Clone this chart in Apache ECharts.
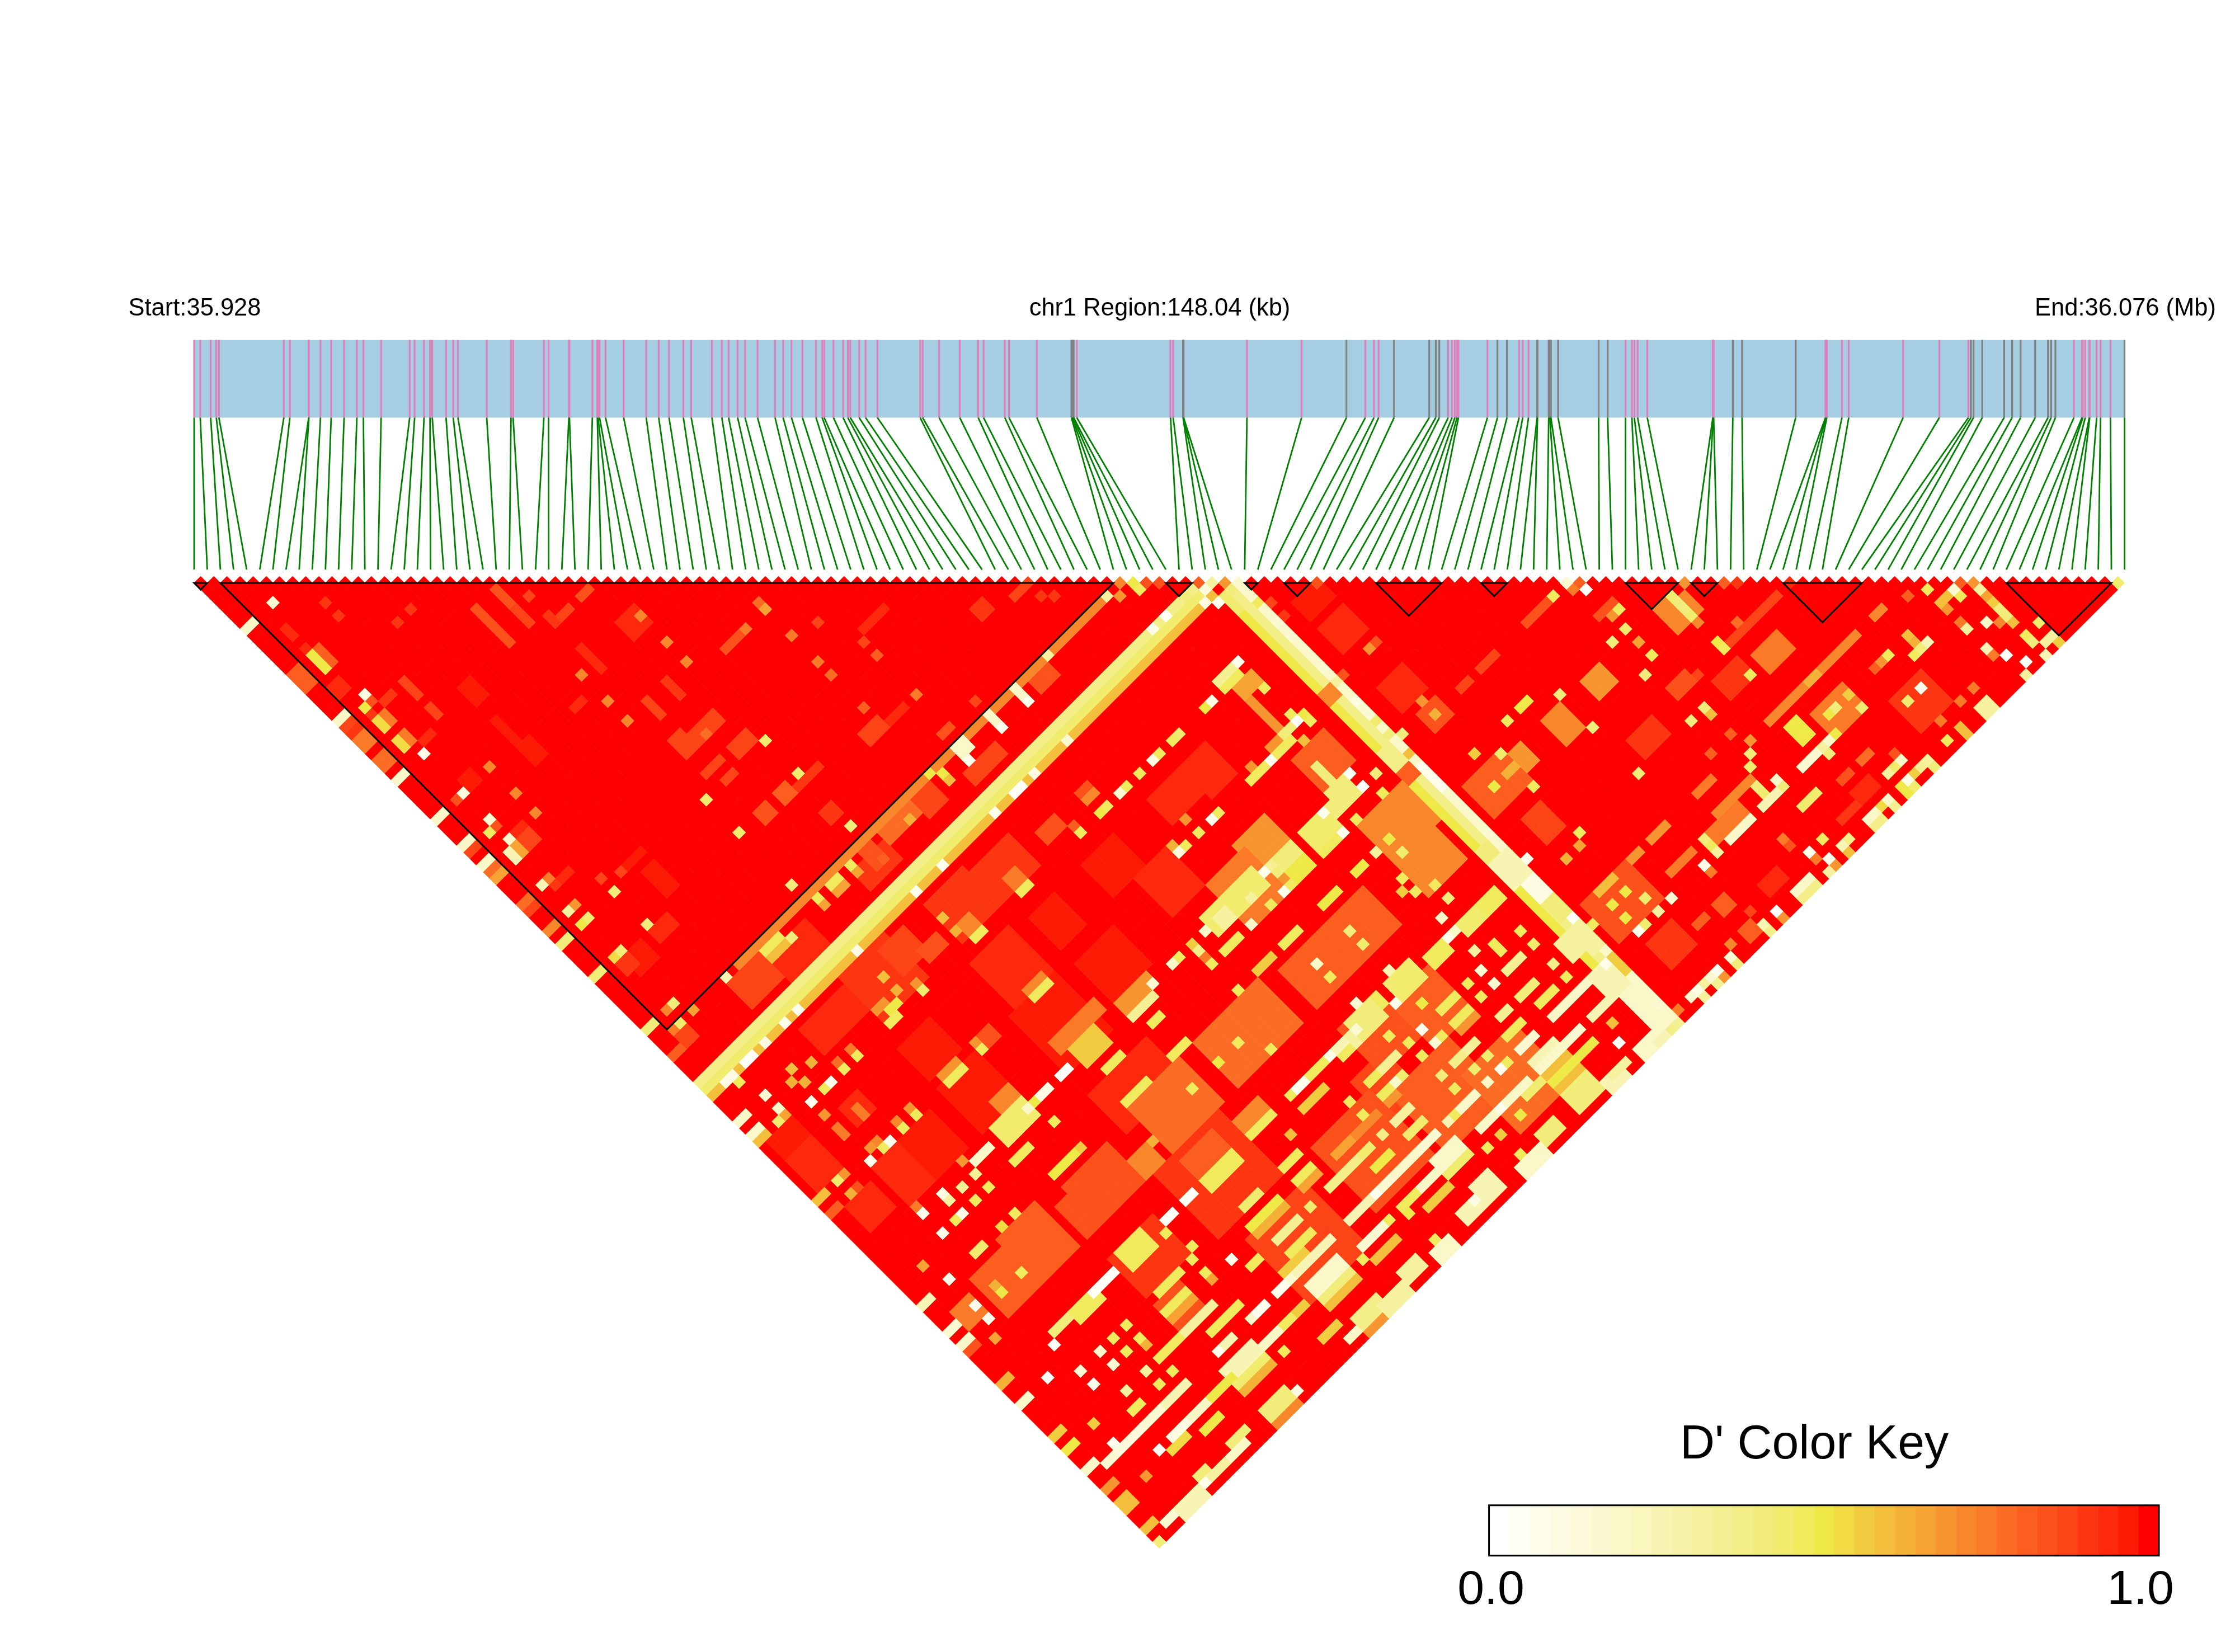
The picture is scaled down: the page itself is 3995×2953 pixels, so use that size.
<!DOCTYPE html>
<html><head><meta charset="utf-8"><style>html,body{margin:0;padding:0;background:#fff}#c{width:3995px;height:2953px}</style>
<script src="https://cdn.jsdelivr.net/npm/echarts@6/dist/echarts.min.js"></script></head><body><div id="c"></div>
<script>
// physical SNP positions, kb from region start
const snpKb=[0,0.47,1.27,1.70,1.90,6.88,7.34,8.79,8.80,9.69,10.51,11.50,12.48,12.98,14.34,16.53,16.91,17.63,18.09,18.26,19.32,19.87,20.23,22.44,24.30,24.46,26.82,27.18,28.74,28.78,30.54,30.92,30.98,31.09,31.55,32.94,34.67,35.63,36.42,37.52,38.12,39.71,40.47,40.99,41.68,42.25,43.21,44.55,45.17,45.81,46.65,47.69,48.16,48.32,49.03,49.77,50.13,50.32,51.00,51.49,52.40,55.68,55.87,57.13,58.72,60.13,60.54,62.17,62.49,64.63,67.28,67.33,67.39,67.45,67.69,74.88,75.08,75.84,75.86,75.88,80.74,84.93,88.37,89.82,90.48,90.84,92.02,94.72,95.22,95.49,96.17,96.47,96.69,96.85,96.96,99.18,99.95,100.68,101.61,101.89,102.33,102.99,103.02,103.88,103.97,104.05,104.60,107.71,108.40,109.77,110.26,110.45,110.70,111.44,116.47,116.50,116.53,118.00,118.71,122.82,125.11,125.15,125.21,126.37,126.89,131.06,133.84,136.07,136.26,136.46,137.13,138.81,139.42,140.07,141.19,142.17,142.41,142.74,144.16,144.78,144.84,145.03,145.34,145.37,145.90,146.20,146.96,148.04];
// SNPs whose track tick is grey; all others are pink
const snpGrey=[70,71,72,73,77,78,79,82,86,87,88,89,96,97,101,102,103,104,105,106,107,108,117,118,119,128,129,130,131,132,133,134,135,136,137,147];
const regionKb=148.04;
// D' colour key, 33 steps from 0 to 1
const keyColors=['#FFFFFF','#FFFEF7','#FEFDEC','#FDFCE3','#FCFADB','#FBF9D2','#FAF7C8','#F9F6BE','#F8F4B3','#F6F3A9','#F5F19E','#F4F093','#F3EE88','#F2ED7B','#F1EC6D','#F0EA5C','#EFE948','#F1DA44','#F2CC40','#F3BE3C','#F4B138','#F6A334','#F79530','#F8872C','#FA7A28','#FB6C24','#FC5E20','#FC511B','#FD4416','#FD3612','#FE280C','#FE1B06','#FF0000'];
// LD blocks outlined in black: first and last SNP
const ldTriangles=[[0,1],[2,70],[74,76],[80,81],[83,85],[90,95],[98,100],[109,113],[114,116],[121,127],[138,146]];
// D' estimates. Everything not listed reads as 1.0.
// [iFrom,iTo,jFrom,jTo,value], later entries overwrite earlier ones
const ldBroad=[[12,13,29,31,.96],[12,12,34,37,.96],[12,13,38,40,.96],[24,24,35,38,.95],[19,20,39,39,.95],[28,28,44,46,.9],[25,25,44,46,.87],[24,25,49,50,.88],[12,13,57,60,.97],[4,6,62,64,.97],[8,10,62,63,.95],[29,31,36,38,.94],[5,6,36,37,.97],[42,44,64,64,.93],[47,50,55,55,.95],[39,41,63,64,.88],[30,33,62,62,.92],[30,31,66,67,.9],[15,20,73,76,.93],
[29,35,96,104,.96],[18,23,96,102,.96],[18,22,90,94,.96],[30,35,89,95,.95],[38,43,97,102,.96],[38,41,90,94,.96],[46,50,90,94,.96],[56,60,90,93,.95],[61,64,90,94,.95],[49,53,95,100,.95],[9,11,90,92,.94],[1,4,87,90,.96],[1,4,90,94,.95],[7,11,97,102,.95],[2,5,98,101,.95],[11,15,97,102,.96],[37,42,82,86,.92],[31,36,81,86,.92],[19,25,80,86,.92],[12,18,81,84,.94],[24,27,81,84,.88],[29,37,108,113,.94],[82,85,99,102,.95],[82,85,90,93,.95],[82,85,86,88,.96],[83,86,139,142,.92],[120,124,139,143,.9],[96,98,143,144,.93],[110,112,143,144,.95],[107,109,144,144,.92],[108,111,124,126,.92],[97,100,122,124,.9],[112,119,122,122,.87],[104,107,122,122,.87],[28,37,119,128,.92],[18,24,122,127,.9],[18,21,129,132,.85],[50,54,127,132,.86],[52,60,131,139,.82],[59,66,135,143,.78],[42,50,129,138,.84],[30,38,131,140,.87],[59,64,124,130,.82],[53,58,122,128,.84],
[20,26,113,118,.84],[18,22,114,118,.85],[31,38,112,118,.78],[6,11,113,118,.8],[11,16,112,118,.8],[41,50,112,118,.78],[53,58,113,118,.8],[59,65,113,118,.8],[70,76,108,113,.72],[70,75,113,118,.72],[70,74,98,102,.8],[59,63,100,107,.68],[54,59,101,107,.75],[81,86,113,117,.82],[83,85,104,106,.84],[83,85,120,123,.87],[81,87,131,136,.85],[113,116,125,127,.74],[109,119,131,131,.72],[113,117,134,137,.75],[30,36,101,102,.75],[38,42,103,104,.68],[31,35,120,122,.82],[2,4,114,116,.76]];
// the long yellow bands and the orange line beside the big block
const ldBands=[[12,68,71,71,.72],[0,76,77,77,.36],[0,76,78,78,.44],[0,76,79,79,.6],[77,77,80,147,.5],[78,78,80,147,.36],[79,79,80,147,.2],[77,78,95,96,.72],[77,78,107,108,.8]];
const ldStreaks=[[0,1,8,8,.18],[3,3,15,17,.5],[4,4,15,17,.82],[0,1,15,17,.82],[3,3,11,12,.93],[2,3,19,20,.95],[5,6,24,24,.92],[3,3,25,26,.52],[4,4,25,26,.75],[0,1,22,22,.18],[0,1,23,23,.87],[0,1,24,24,.92],[0,1,25,26,.75],[0,1,28,29,.77],[0,1,31,31,.2],[3,3,28,29,.53],[4,4,28,29,.75],[5,6,30,30,.93],[8,8,24,26,.88],[8,8,28,29,.87],[19,19,24,26,.85],[19,19,27,29,.85],[22,22,24,26,.85],[22,22,27,29,.87],[25,26,31,31,.87],[24,24,30,31,.9],[28,29,31,31,.85],[0,1,37,37,.2],[0,1,41,41,.2],[0,1,42,42,.87],[0,1,44,44,.2],[0,1,45,45,.77],[0,1,46,46,.65],[3,3,45,46,.25],[4,4,45,46,.67],[5,6,45,46,.88],[5,6,44,44,.93],[5,6,51,51,.93],[0,1,50,50,.78],[0,1,51,51,.87],[0,1,54,54,.72],[0,1,56,56,.42],[11,13,55,55,.96],[0,1,61,61,.42],[3,4,62,63,.92],[0,1,69,69,.42],[2,3,72,73,.87],[0,1,73,73,.8],
[35,37,46,46,.85],[28,29,61,62,.82],[25,26,61,62,.85],[27,29,50,51,.87],[24,26,50,51,.87],[28,30,54,55,.87],[24,26,54,54,.87],[25,26,56,56,.87],[57,58,62,63,.92],[61,63,64,64,.88],[45,46,69,69,.85],
[54,54,71,72,.2],[50,50,71,72,.2],[45,46,71,72,.2],[56,58,72,73,.85],[44,48,74,75,.87],[33,37,72,73,.78],[38,40,72,74,.87],[28,32,73,75,.9],[30,31,72,74,.83],[25,26,72,72,.48],[25,26,73,73,.65],[14,17,72,72,.47],[14,17,73,73,.58],[10,14,72,75,.87],
[51,52,84,84,.85],[51,52,85,85,.72],[45,47,84,85,.85],[39,40,85,86,.75],[39,40,87,87,.47],[32,33,85,86,.72],[32,33,87,87,.47],[27,29,84,85,.85],[19,20,87,87,.46],[20,21,86,86,.5],[19,20,85,85,.7],[0,1,83,83,.2],[0,1,85,85,.2],[0,1,86,86,.6],[10,10,91,92,.75],[7,7,91,92,.75],[0,1,95,95,.6],[0,1,97,97,.82],[32,34,95,95,.72],[32,34,96,96,.47],[19,21,95,95,.7],[19,21,96,96,.47],[25,26,95,96,.85],[38,41,105,105,.35],[39,40,107,107,.47],[31,34,103,105,.55],[32,34,107,107,.47],[28,29,104,104,.03],[25,26,104,104,.08],[21,23,101,102,.72],[19,23,103,105,.45],[18,20,107,107,.47],[15,17,104,104,.2],[31,34,111,111,.46],[20,23,111,111,.5],[27,29,116,118,.72],[31,35,123,124,.47],[28,29,123,123,.04],[25,26,123,123,.04],[50,51,104,104,.2],[51,54,103,105,.45],[52,53,104,105,.3],[38,40,111,111,.47],[65,68,139,139,.25],[65,68,140,143,.6],
[53,55,123,124,.3],[56,58,122,123,.47],[49,50,123,123,.05],[51,52,123,124,.25],[53,55,128,128,.35],[51,52,128,128,.47],[51,52,130,130,.47],[51,52,131,131,.68],[60,61,133,133,.3],[56,58,137,137,.2],[50,52,133,133,.3],[50,52,137,137,.15],[46,49,137,137,.2],[50,52,135,135,.45],[56,58,140,140,.2],[50,53,139,140,.2],[50,53,141,141,.45],[46,49,140,140,.2],[46,49,142,142,.55],[43,45,137,137,.15],[44,46,140,140,.47],[61,63,140,140,.2],[62,64,141,141,.45],[39,42,137,137,.25],[38,41,140,140,.15],[38,41,142,142,.6],[38,40,128,128,.47],[38,40,130,130,.47],[38,40,131,131,.65],[40,44,133,133,.38],[43,45,131,131,.65],[45,46,133,133,.45],[45,47,135,135,.5],[38,41,121,122,.72],[38,41,123,123,.47],[46,49,131,131,.72],[44,47,125,125,.55],[47,49,123,123,.47],[45,46,123,123,.05],
[32,34,128,128,.45],[31,35,130,130,.5],[31,35,131,131,.62],[32,35,133,133,.35],[32,35,135,135,.47],[30,33,136,136,.55],[31,36,137,137,.25],[28,29,137,137,.05],[31,35,139,140,.2],[31,35,141,141,.4],[31,35,142,142,.6],[25,26,137,137,.05],[28,29,133,133,.47],[28,29,140,140,.55],[20,21,137,137,.25],[20,23,135,135,.47],[18,22,133,133,.3],[18,22,139,140,.25],[18,22,141,141,.45],[18,22,142,142,.62],[14,17,133,133,.47],[11,14,137,137,.25],[14,18,140,140,.5],[23,25,140,140,.2],[26,27,140,140,.48],[18,21,145,146,.4],[18,21,147,147,.72],[28,30,144,144,.55],[30,31,146,146,.2],[32,35,145,146,.38],[32,35,147,147,.7],[35,38,146,147,.3],[39,41,145,146,.3],[43,45,146,147,.2],[48,50,145,146,.25],[51,53,144,146,.25],[56,59,146,147,.2],[60,62,145,146,.42],[65,68,144,146,.42],[69,71,146,147,.25],
[19,22,122,124,.47],[19,22,128,128,.47],[18,21,130,130,.47],[18,21,131,131,.65],[8,9,135,135,.47],[8,10,137,137,.15],[4,7,137,137,.12],[9,11,140,140,.1],[8,10,141,141,.52],[12,14,140,140,.2],[12,14,142,142,.5],[13,15,145,145,.42],[11,14,146,146,.2],[9,11,146,146,.3],[4,7,146,147,.25],[8,9,111,111,.45],[14,17,123,123,.02],[13,14,124,124,.47],[0,1,111,111,.25],[0,1,115,115,.15],[0,1,117,117,.18],[0,1,118,118,.85],[0,1,123,123,.62],[0,1,126,126,.2],[0,1,131,131,.55],[0,1,133,133,.5],[0,1,136,136,.2],[0,1,139,139,.68],[0,1,141,142,.6],[0,1,145,145,.6],[2,3,146,146,.15],[8,10,123,123,.4],[11,13,123,124,.47],[2,3,137,137,.15],[8,9,145,145,.4],
[70,72,86,86,.35],[70,72,87,87,.47],[71,73,88,89,.65],[71,71,90,94,.7],[70,72,95,95,.4],[69,71,96,96,.47],[69,70,95,95,.7],[65,67,96,96,.47],[71,71,100,103,.4],[70,72,103,105,.42],[68,70,104,105,.42],[65,68,104,106,.45],[65,67,107,107,.47],[66,67,111,111,.5],[61,63,111,111,.5],[55,57,111,111,.47],[51,53,111,111,.55],[60,63,104,105,.42],[61,63,106,107,.5],[55,58,103,105,.45],[50,52,107,107,.47],[65,67,123,124,.47],[70,72,123,124,.45],[73,75,123,124,.47],[71,71,127,128,.47],[70,72,130,130,.35],[69,71,133,133,.4],[70,76,137,137,.18],[73,75,140,140,.25],[70,72,135,135,.47],[66,67,133,133,.35],[65,67,135,135,.47],[65,67,137,137,.15],[65,69,140,140,.2],[65,69,142,142,.5],[70,71,140,140,.15],[70,71,142,142,.5],[74,77,146,147,.2],[70,72,146,146,.3],[60,63,122,124,.45],[54,57,122,124,.42],[62,64,128,128,.47],[62,64,130,130,.47],[62,64,131,131,.68],[59,60,133,133,.38],[51,52,124,124,.47],
[77,77,80,82,.45],[77,78,104,106,.38],[79,79,108,111,.05],[77,78,119,121,.4],[77,79,121,124,.25],[78,79,125,127,.1],[78,79,128,130,.42],[76,77,132,134,.3],[78,79,132,135,.3],[79,79,137,139,.55],[76,78,137,140,.25],[77,78,141,143,.2],[77,79,144,146,.2],
[98,101,105,105,.85],[104,106,110,110,.85],[111,111,114,118,.4],[109,110,114,117,.72],[112,112,115,117,.72],[98,100,114,116,.7],[91,92,111,111,.5],[85,86,115,115,.62],[87,88,114,116,.68],[92,94,114,117,.72],[91,93,105,105,.87],[88,89,105,105,.88],[91,93,131,131,.7],[88,89,131,131,.7],[90,93,135,135,.75],[83,85,131,131,.6],[104,106,121,122,.85],[120,122,131,131,.72],[125,126,131,131,.72],[110,111,133,135,.5],[108,110,137,137,.15],[102,104,137,137,.25],[98,103,134,134,.72],[96,100,135,136,.75],[97,100,137,137,.2],[105,107,140,140,.45],[115,116,131,131,.62],[98,100,131,131,.75],[113,114,141,141,.78],[110,111,141,141,.85],[91,92,141,142,.8],[88,89,141,141,.8],[91,92,145,146,.82],[98,100,146,146,.2],[98,100,147,147,.38],[109,110,146,146,.2],[109,110,147,147,.38],[126,127,146,147,.3],[136,137,146,146,.3]];
// [i,j,value] single cells
const ldCells=[[4,8,.15],[8,12,.92],[8,14,.92],[12,19,.92],[14,19,.92],[3,14,.93],[4,22,.1],[3,23,.5],[4,23,.85],[3,24,.92],[4,31,.05],[24,27,.87],[31,37,.72],[31,41,.72],[31,44,.72],[22,37,.72],[22,41,.72],[22,44,.72],[8,37,.72],[8,41,.72],[8,44,.72],[4,37,.12],[4,41,.15],[4,44,.2],[3,42,.47],[3,37,.85],[4,42,.85],[3,50,.25],[4,50,.75],[4,51,.9],[3,54,.3],[4,54,.68],[3,56,.5],[4,56,.45],[8,54,.88],[8,56,.42],[10,55,.87],[8,61,.42],[4,61,.42],[3,61,.52],[4,69,.42],[3,69,.72],[3,71,.45],[2,71,.75],[5,71,.65],
[41,45,.78],[41,46,.65],[38,46,.75],[41,50,.75],[44,51,.88],[41,54,.75],[41,56,.78],[46,58,.8],[46,56,.87],[46,64,.75],[41,61,.8],[31,56,.45],[31,61,.45],[22,56,.45],[22,61,.45],[31,69,.42],[22,69,.42],[27,51,.78],[64,67,.9],[63,66,.9],[50,69,.88],
[59,71,.3],[68,71,.3],[54,73,.05],[50,73,.05],[45,73,.05],[41,71,.5],[42,72,.5],[42,73,.6],[28,72,.48],[28,73,.65],[23,72,.48],[23,73,.65],[18,73,.42],[36,73,.62],[31,74,.8],[10,71,.25],[69,72,.7],[71,73,.48],[74,77,.4],[76,78,.12],[78,80,.42],[76,80,.05],[75,79,.1],[71,77,.03],[69,77,.05],
[35,79,.05],[31,79,.05],[22,79,.1],[13,79,.05],[11,79,.05],[8,79,.1],[5,79,.03],[6,79,.03],[2,79,.1],[3,79,.1],[3,80,.47],[43,79,.05],[46,79,.03],[47,79,.03],[49,79,.1],[54,79,.15],
[79,88,.15],[79,93,.15],[79,98,.1],[79,99,.15],[79,100,.15],[79,118,.15],[80,123,.05],[79,131,.03],[78,137,.05],[79,144,.15],[79,145,.2],[79,147,.35],[79,83,.47],[80,84,.88],[79,86,.15],[80,86,.9],[80,95,.85],[79,95,.3],[79,101,.45],[80,104,.4],[79,103,.4],[79,105,.2],[79,106,.6],[80,133,.47],
[70,71,.72],[71,72,.5],[72,73,.85],[73,74,.85],[76,77,.8],[77,78,.3],[78,79,.7],[85,86,.85],[104,105,.15],[105,106,.8],[113,114,.7],[116,117,.8],[117,118,.9],[121,122,.93],[134,135,.8],[135,136,.7],[146,147,.45],
[52,87,.47],[51,87,.5],[48,87,.48],[48,86,.8],[54,87,.15],[55,87,.47],[57,87,.47],[59,87,.1],[60,87,.47],[63,87,.45],[62,87,.47],[31,83,.6],[31,85,.62],[24,87,.45],[24,86,.7],[22,85,.62],[22,83,.6],[14,87,.47],[14,86,.75],[12,87,.47],[12,86,.78],[10,87,.05],[9,87,.47],[7,87,.05],[8,85,.62],[7,84,.62],[8,83,.6],[10,84,.62],[4,83,.15],[4,85,.2],[3,86,.45],[4,86,.65],[7,89,.7],[14,96,.47],[14,95,.7],[12,96,.47],[12,95,.72],[10,96,.05],[9,96,.47],[9,95,.72],[7,96,.05],[8,95,.7],[3,95,.45],[4,95,.68],[3,97,.62],[4,97,.85],[24,96,.47],[24,95,.7],[42,104,.15],[14,103,.7],[14,105,.35],[14,107,.47],[12,105,.35],[12,107,.47],[10,104,.08],[10,105,.3],[10,107,.05],[7,104,.05],[7,107,.05],[9,107,.47],[7,103,.75],[24,104,.5],[23,104,.2],[24,107,.47],[24,111,.55],[37,115,.47],[30,116,.62],[59,96,.05],[60,96,.47],[57,96,.47],[54,96,.12],[55,96,.47],[54,95,.62],[57,94,.7],[45,104,.2],[46,104,.47],[48,107,.47],[48,106,.75],[48,105,.38],[48,104,.55],[41,115,.5],[46,118,.47],[44,115,.47],
[24,124,.47],[25,127,.47],[24,130,.47],[24,131,.65],[27,131,.05],[24,137,.2],[24,135,.47],[19,137,.05],[24,142,.47],[22,146,.1],[50,145,.1],[57,145,.47],[44,145,.47],[56,126,.47],[57,128,.47],[59,128,.05],[59,130,.15],[60,130,.47],[54,130,.45],[53,130,.2],[57,130,.47],[57,133,.4],[62,133,.35],[62,135,.45],[63,137,.47],[62,137,.05],[60,137,.2],[60,135,.45],[57,135,.47],[54,137,.25],[55,137,.47],[57,142,.55],[55,142,.47],[59,140,.05],[60,140,.2],[60,142,.5],[43,137,.05],[44,141,.5],[42,140,.47],[37,141,.47],[37,133,.45],[30,137,.15],[41,126,.6],[48,128,.47],[48,130,.47],[48,133,.38],[44,123,.47],[14,128,.47],[14,130,.47],[14,131,.62],[12,130,.47],[12,133,.3],[9,133,.3],[12,135,.47],[14,135,.47],[7,140,.03],[8,146,.05],
[4,111,.05],[3,108,.65],[4,115,.05],[4,117,.05],[3,119,.65],[7,116,.5],[7,115,.62],[10,116,.47],[14,111,.47],[12,111,.52],[7,124,.03],[7,128,.15],[4,126,.03],[7,130,.05],[10,128,.2],[12,128,.47],[10,130,.15],[12,130,.47],[4,133,.55],[4,136,.05],[4,141,.7],[24,128,.47],[0,147,.42],
[73,86,.05],[68,87,.1],[67,87,.5],[73,90,.47],[73,95,.03],[74,96,.47],[74,95,.5],[73,94,.47],[68,96,.05],[66,95,.7],[72,97,.6],[73,103,.03],[73,105,.03],[75,105,.4],[74,107,.47],[68,104,.05],[67,104,.45],[70,107,.47],[68,107,.05],[69,111,.3],[71,111,.5],[71,113,.45],[69,115,.47],[69,117,.47],[68,116,.55],[71,118,.47],[71,120,.42],[69,121,.2],[68,123,.05],[69,123,.2],[74,128,.47],[74,130,.45],[69,126,.3],[68,128,.15],[68,130,.15],[66,128,.47],[66,130,.47],[74,133,.38],[74,135,.47],[74,142,.6],[73,144,.03],[56,121,.15],[59,124,.05],[61,121,.25],[61,126,.5],[54,123,.15],[56,126,.47],[59,107,.05],[59,104,.05],[60,104,.35],[60,107,.47],[57,107,.47],[54,107,.2],[56,105,.3],[48,111,.47],[56,115,.2],[56,117,.47],[61,115,.4],[61,117,.45],
[105,107,.03],[104,106,.75],[102,105,.47],[106,111,.47],[105,111,.7],[105,113,.45],[103,113,.42],[103,118,.42],[105,117,.47],[105,115,.65],[95,113,.42],[89,111,.47],[95,118,.42],[95,125,.42],[103,125,.42],[84,111,.55],[86,113,.45],[86,118,.47],[83,115,.5],[84,103,.7],[84,105,.62],[84,95,.7],[85,95,.85],[86,125,.47],[85,126,.65],[83,126,.62],[93,137,.05],[85,133,.5],[83,133,.5],[86,135,.45],[88,137,.15],[86,137,.3],[84,137,.45],[83,137,.05],[83,135,.5],[82,146,.15],[83,146,.1],
[111,114,.45],[111,115,.42],[111,116,.4],[111,117,.45],[111,118,.72],[111,121,.5],[111,122,.47],[111,126,.47],[105,125,.42],[105,126,.58],[105,129,.8],[106,131,.7],[102,129,.82],[105,132,.42],[104,133,.45],[114,121,.78],[103,135,.42],[103,136,.45],[105,136,.2],[105,137,.4],[112,137,.2],[111,137,.3],[111,138,.42],[113,137,.5],[115,135,.42],[114,135,.5],[117,135,.55],[117,137,.45],[129,132,.82],[131,133,.47],[131,135,.58],[132,135,.58],[131,136,.7],[133,135,.15],[133,136,.47],[135,137,.3],[135,138,.65],[135,139,.55],[135,140,.4],[135,141,.42],[135,142,.6],[133,140,.2],[134,141,.72],[131,139,.3],[131,138,.75],[131,142,.25],[132,144,.03],[133,146,.03],[135,144,.47],[135,145,.4],[137,144,.45],[137,147,.55],[135,147,.25],[132,147,.3],[131,143,.75],[126,135,.6],[126,136,.62],[127,137,.25],[126,137,.42],[125,137,.47],[123,135,.47],[122,135,.7],[121,135,.8],[127,144,.75],[125,144,.75],[123,140,.05],[121,140,.45],[122,144,.75],[123,146,.6],[123,147,.6],[121,146,.47],[116,143,.85],[116,144,.2],[115,144,.45],[114,144,.3],[118,146,.3],[118,147,.42],[117,146,.35],[115,146,.1],[116,146,.55],[115,147,.45],[114,146,.5],[114,147,.5],[112,146,.2],[112,147,.35],[111,146,.52],[104,144,.47],[106,146,.38],[105,146,.25],[105,147,.6],[102,144,.05],[103,146,.05],[103,147,.7],[102,147,.3],[102,145,.75],[101,141,.75],[101,142,.85],[95,135,.42],[95,136,.47],[95,137,.3],[93,138,.75],[93,144,.88],[95,146,.03],[95,147,.7],[93,146,.25],[93,147,.38],[89,145,.72],[88,146,.15],[88,147,.4],[86,146,.05],[85,146,.15],[84,146,.3],[86,147,.7],[85,147,.35],[83,147,.3],[80,146,.75],[76,147,.25],[77,147,.25]];

const W=23.473,H=11.74,X0=347,Y0=1030.3,N=snpKb.length;
const matrix={};
function setCell(i,j,v){if(i<j&&j<N)matrix[i+'_'+j]=v;}
for(let i=0;i<N;i++)for(let j=i+1;j<N;j++)matrix[i+'_'+j]=1;
[...ldBroad,...ldBands,...ldStreaks].forEach(b=>{for(let i=b[0];i<=b[1];i++)for(let j=b[2];j<=b[3];j++)setCell(i,j,b[4]);});
ldCells.forEach(c=>setCell(c[0],c[1],c[2]));
const cellData=[];
for(let i=0;i<N;i++)for(let j=i+1;j<N;j++)cellData.push([i,j,matrix[i+'_'+j]]);
cellData.sort((a,b)=>b[2]-a[2]);

const chart=echarts.init(document.getElementById('c'),null,{renderer:'canvas',width:3995,height:2953});
const TXT='"Liberation Sans",Arial,sans-serif';
const text=(x,y,t,s)=>({type:'text',x:x,y:y,silent:true,style:{text:t,fontSize:s,fontFamily:TXT,fill:'#000',align:'center',verticalAlign:'middle'}});
chart.setOption({
 animation:false,backgroundColor:'#fff',
 grid:[{left:0,top:0,width:3995,height:2953},{left:2661.6,top:2690.7,width:1197.4,height:90}],
 xAxis:[{type:'value',show:false,min:-X0/W,max:(3995-X0)/W,gridIndex:0},{type:'value',show:false,min:0,max:keyColors.length,gridIndex:1}],
 yAxis:[{type:'value',show:false,inverse:true,min:-Y0/H,max:(2953-Y0)/H,gridIndex:0},{type:'value',show:false,min:0,max:1,gridIndex:1}],
 graphic:[text(348,552,'Start:35.928',43.5),text(2073,552,'chr1 Region:148.04 (kb)',43.5),text(3799,552,'End:36.076 (Mb)',43.5),text(3243,2583,"D' Color Key",86),text(2665,2843,'0.0',86),text(3826,2843,'1.0',86)],
 series:[
 {type:'custom',silent:true,coordinateSystem:'cartesian2d',progressive:0,data:[[0,-36,147,-24.17]],z:1,renderItem:(p,a)=>{const s=a.coord([a.value(0),a.value(1)]),e=a.coord([a.value(2),a.value(3)]);return{type:'rect',shape:{x:s[0],y:s[1],width:e[0]-s[0],height:e[1]-s[1]},style:{fill:'#A6CEE3'}};}},
 {type:'custom',silent:true,coordinateSystem:'cartesian2d',progressive:0,z:2,data:snpKb.map((k,r)=>[k/regionKb*(N-1),r]),renderItem:(p,a)=>{const t=a.coord([a.value(0),-36]),b=a.coord([a.value(0),-24.17]);return{type:'line',shape:{x1:t[0],y1:t[1],x2:b[0],y2:b[1]},style:{stroke:snpGrey.includes(a.value(1))?'#808080':'#E07FB9',lineWidth:3.2}};}},
 {type:'custom',silent:true,coordinateSystem:'cartesian2d',progressive:0,z:3,data:snpKb.map((k,r)=>[k/regionKb*(N-1),r]),renderItem:(p,a)=>{const t=a.coord([a.value(0),-24.17]),b=a.coord([a.value(1),-1.04]);return{type:'line',shape:{x1:t[0],y1:t[1],x2:b[0],y2:b[1]},style:{stroke:'#008000',lineWidth:2.8}};}},
 {type:'custom',silent:true,coordinateSystem:'cartesian2d',progressive:0,z:4,data:cellData,renderItem:(p,a)=>{const i=a.value(0),j=a.value(1),v=a.value(2),m=(i+j)/2,d=j-i;const pts=[[m,d-1],[m+.5,d],[m,d+1],[m-.5,d]].map(q=>a.coord(q));const c=keyColors[Math.round(v*(keyColors.length-1))];return{type:'polygon',shape:{points:pts},style:{fill:c,stroke:c,lineWidth:1}};}},
 {type:'custom',silent:true,coordinateSystem:'cartesian2d',progressive:0,z:5,data:ldTriangles,renderItem:(p,a)=>{const s=a.value(0),e=a.value(1),pts=[[s,1],[e,1],[(s+e)/2,1+e-s]].map(q=>a.coord(q));return{type:'polygon',shape:{points:pts},style:{fill:'none',stroke:'#000',lineWidth:3}};}},
 {type:'custom',silent:true,coordinateSystem:'cartesian2d',xAxisIndex:1,yAxisIndex:1,progressive:0,z:6,data:keyColors.map((c,k)=>[k]),renderItem:(p,a)=>{const k=a.value(0),s=a.coord([k,1]),e=a.coord([k+1,0]);return{type:'rect',shape:{x:s[0],y:s[1],width:e[0]-s[0]+.5,height:e[1]-s[1]},style:{fill:keyColors[k]}};}},
 {type:'custom',silent:true,coordinateSystem:'cartesian2d',xAxisIndex:1,yAxisIndex:1,progressive:0,z:7,data:[[0,1,keyColors.length,0]],renderItem:(p,a)=>{const s=a.coord([a.value(0),a.value(1)]),e=a.coord([a.value(2),a.value(3)]);return{type:'rect',shape:{x:s[0],y:s[1],width:e[0]-s[0],height:e[1]-s[1]},style:{fill:'none',stroke:'#000',lineWidth:3}};}}
 ]
});
</script></body></html>
